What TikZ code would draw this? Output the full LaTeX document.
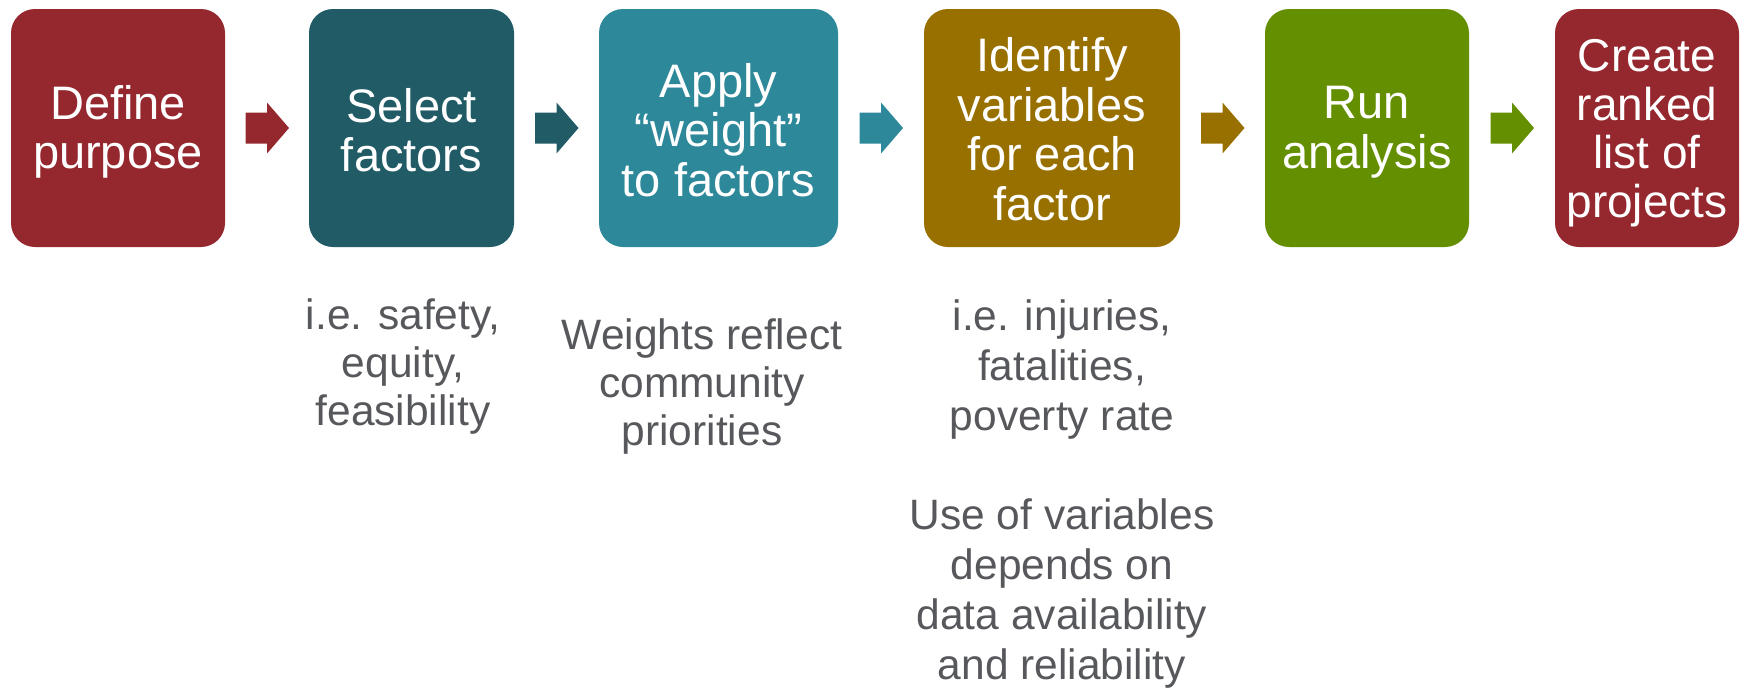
\documentclass[tikz,border=0pt]{standalone}
\usepackage{fontspec}
\setmainfont{Liberation Sans}
\usetikzlibrary{calc}
\definecolor{cRed}{HTML}{95282E}
\definecolor{cDTeal}{HTML}{205B66}
\definecolor{cTeal}{HTML}{2D8899}
\definecolor{cGold}{HTML}{977000}
\definecolor{cGreen}{HTML}{648F00}
\definecolor{cGray}{HTML}{56585B}
\tikzset{
  stepbox/.style={rounded corners=24pt, minimum height=238pt, text=white, align=center,
    inner sep=0pt, font=\fontsize{47}{49.5}\selectfont},
  steptext/.style={text=white, align=center, inner sep=0pt, font=\fontsize{47}{49.5}\selectfont},
  note/.style={text=cGray, align=center, inner sep=0pt, font=\fontsize{42.5}{48}\selectfont},
}
\begin{document}
\begin{tikzpicture}[x=1pt,y=-1pt]
\useasboundingbox (0,0) rectangle (1762,691);
\node[stepbox, fill=cRed,   minimum width=214pt] (b1) at (118,128)   {};
\node[stepbox, fill=cDTeal, minimum width=205pt] (b2) at (411.5,128) {};
\node[stepbox, fill=cTeal,  minimum width=239pt] (b3) at (718.5,128) {};
\node[stepbox, fill=cGold,  minimum width=256pt] (b4) at (1052,128)  {};
\node[stepbox, fill=cGreen, minimum width=204pt] (b5) at (1367,128)  {};
\node[stepbox, fill=cRed,   minimum width=184pt] (b6) at (1647,128)  {};
\node[steptext] (l1) at ($(b1.center)+(0,4)$) {Define\\purpose};
\node[steptext] (l2) at ($(b2.center)+(0,2)$) {Select\\factors};
\node[steptext] (l3) at ($(b3.center)+(0,2)$) {Apply\\“weight”\\to factors};
\node[steptext] (l4) at ($(b4.center)+(0,1)$) {Identify\\variables\\for each\\factor};
\node[steptext] (l5) at ($(b5.center)+(0,4)$) {Run\\analysis};
\node[steptext, font=\fontsize{46}{48.5}\selectfont] (l6) at ($(b6.center)+(0,5)$) {Create\\ranked\\list of\\projects};
\foreach \a/\b/\c in {b1/b2/cRed, b2/b3/cDTeal, b3/b4/cTeal, b4/b5/cGold, b5/b6/cGreen}{
  \coordinate (m) at ($(\a.east)!0.5!(\b.west)$);
  \fill[\c] ($(m)+(-21.5,-15.5)$) -- ($(m)+(0,-15.5)$) -- ($(m)+(0,-25.5)$) -- ($(m)+(22,0)$)
    -- ($(m)+(0,25.5)$) -- ($(m)+(0,15.5)$) -- ($(m)+(-21.5,15.5)$) -- cycle;
}
\node[note] (t1) at (403,367) {i.e. safety,\\equity,\\feasibility};
\node[note] (t2) at (702,387) {Weights reflect\\community\\priorities};
\node[note, font=\fontsize{42.5}{49.8}\selectfont] (t3) at (1062,494) {i.e. injuries,\\fatalities,\\poverty rate\\[49.8pt]Use of variables\\depends on\\data availability\\and reliability};
\end{tikzpicture}
\end{document}
